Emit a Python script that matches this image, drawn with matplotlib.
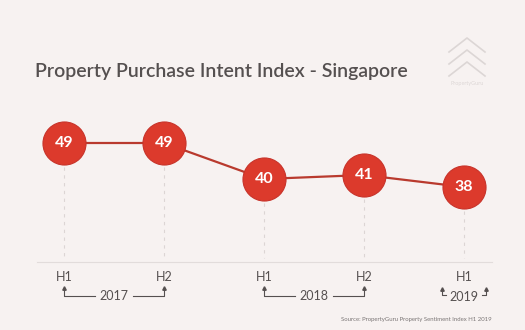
import matplotlib
matplotlib.use('Agg')
import matplotlib.pyplot as plt
import matplotlib.transforms as mtransforms

# half-year periods and index values
periods = ['H1', 'H2', 'H1', 'H2', 'H1']
values = [49, 49, 40, 41, 38]
years = ['2017', '2018', '2019']
year_spans = [(0, 1), (2, 3), (4, 4)]

bg = '#f7f2f1'
red = '#dc3a2c'
line_red = '#b93a2e'
grey = '#555050'

plt.rcParams['font.family'] = ['Lato', 'DejaVu Sans']

fig = plt.figure(figsize=(5.25, 3.3), dpi=100, facecolor=bg)
ax = fig.add_axes([0, 0, 1, 1])
ax.set_facecolor(bg)
ax.set_xlim(-0.64, 4.61)
ax.set_ylim(2.25, 84.75)
ax.axis('off')

xs = list(range(len(values)))
# x in data units, y in figure fraction (measured from top in pixels)
tr = mtransforms.blended_transform_factory(ax.transData, fig.transFigure)
def fy(px):
    return 1 - px / 330.0

# dashed guides from each marker down to the baseline
for x, v in zip(xs, values):
    top = ax.transData.transform((x, v))[1]
    top_px = 330 - top + 24
    ax.plot([x, x], [fy(top_px), fy(258)], transform=tr, color='#dcd5d4',
            lw=0.8, ls=(0, (3, 4)), zorder=1)

ax.plot([-0.27, 4.28], [fy(262), fy(262)], transform=tr, color='#e2dcdb', lw=0.8)

ax.plot(xs, values, color=line_red, lw=1.6, zorder=2)
ax.plot(xs, values, 'o', ms=31, color=red, mec='#c8332a', mew=0.8, zorder=3)
for x, v in zip(xs, values):
    ax.text(x, v, str(v), ha='center', va='center', color='white',
            fontsize=11.5, fontweight='bold', zorder=4)

for x, p in zip(xs, periods):
    ax.text(x, fy(277), p, transform=tr, ha='center', va='center',
            color=grey, fontsize=9)

# year brackets under the period labels
bk = dict(transform=tr, color=grey, lw=0.8)
arrow = dict(transform=tr, marker='^', ms=2.5, color=grey, ls='none')
for yr, (a, b) in zip(years, year_spans):
    if a != b:
        mid = (a + b) / 2
        ax.plot([a, a, mid - 0.19], [fy(288), fy(296), fy(296)], **bk)
        ax.plot([mid + 0.19, b, b], [fy(296), fy(296), fy(288)], **bk)
        ax.plot([a, b], [fy(288), fy(288)], **arrow)
        ax.text(mid, fy(296.5), yr, transform=tr, ha='center', va='center',
                color=grey, fontsize=9)
    else:
        ax.plot([a - 0.22, a - 0.22, a - 0.18], [fy(289), fy(295), fy(295)], **bk)
        ax.plot([a + 0.18, a + 0.22, a + 0.22], [fy(295), fy(295), fy(289)], **bk)
        ax.plot([a - 0.22, a + 0.22], [fy(289), fy(289)], **arrow)
        ax.text(a, fy(297), yr, transform=tr, ha='center', va='center',
                color=grey, fontsize=9)

fig.text(35 / 525, fy(72), 'Property Purchase Intent Index - Singapore',
         ha='left', va='center', color=grey, fontsize=14, fontweight='semibold')

# faint logo, top right
logo = dict(transform=fig.transFigure, color='#dcd6d5', lw=1.2)
cx = 467 / 525
for dy in (38, 50, 62):
    ax.plot([cx - 18 / 525, cx, cx + 18 / 525], [fy(dy + 14), fy(dy), fy(dy + 14)], **logo)
fig.text(cx, fy(84), 'PropertyGuru', ha='center', va='center', color='#ddd7d6', fontsize=4)

fig.text(492 / 525, fy(320), 'Source: PropertyGuru Property Sentiment Index H1 2019',
         ha='right', va='center', color='#7a7575', fontsize=4.3)

fig.savefig('out.png', dpi=100, facecolor=bg)
